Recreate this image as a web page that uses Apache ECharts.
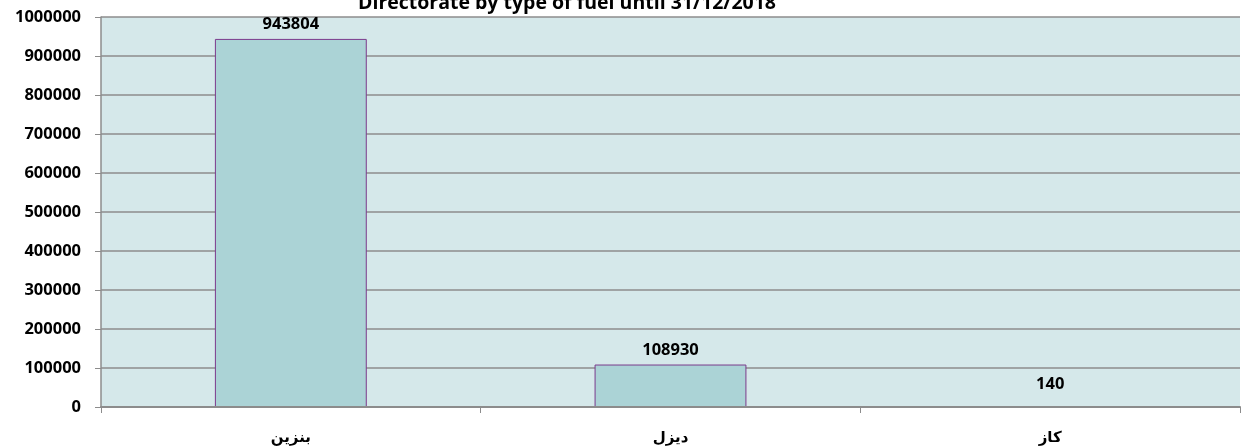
<!DOCTYPE html>
<html>
<head>
<meta charset="utf-8">
<script src="https://cdn.jsdelivr.net/npm/echarts@6/dist/echarts.min.js"></script>
<style>
  html, body { margin: 0; padding: 0; background: #fff; }
  #chart { width: 1241px; height: 448px; }
</style>
</head>
<body>
<div id="chart"></div>
<script>
    'use strict'

    var titleText = 'Directorate by type of fuel until 31/12/2018';
    var fuelTypes = ['بنزين', 'ديزل', 'كاز'];
    var fuelCounts = [943804, 108930, 140];
    var labelGaps = [6, 6, 14];

    var fuelChart = echarts.init(document.getElementById('chart'));

    var barData = fuelCounts.map(function (v, i) {
        return { value: v, label: { distance: labelGaps[i] } };
    });

    fuelChart.setOption({
        animation: false,
        title: {
            text: titleText,
            left: 562,
            textAlign: 'center',
            top: -12,
            textStyle: {
                fontFamily: 'Open Sans',
                fontSize: 19.5,
                fontWeight: 'bold',
                color: '#000'
            }
        },
        grid: {
            left: 101,
            right: 1,
            top: 17,
            bottom: 41,
            show: true,
            backgroundColor: '#d5e8ea',
            borderWidth: 0
        },
        xAxis: {
            type: 'category',
            data: fuelTypes,
            z: 5,
            axisLine: { lineStyle: { color: '#8c8c8c', width: 2 } },
            axisTick: { show: true, length: 6, lineStyle: { color: '#8c8c8c' } },
            axisLabel: {
                margin: 24,
                fontFamily: 'DejaVu Sans',
                fontSize: 15,
                fontWeight: 'bold',
                color: '#000'
            }
        },
        yAxis: {
            type: 'value',
            min: 0,
            max: 1000000,
            interval: 100000,
            axisLine: { show: true, lineStyle: { color: '#8c8c8c', width: 1.5 } },
            axisTick: { show: true, length: 6, lineStyle: { color: '#8c8c8c' } },
            splitLine: { lineStyle: { color: '#8c8c8c', width: 1.5 } },
            axisLabel: {
                margin: 20,
                fontFamily: 'Open Sans',
                fontSize: 16.5,
                fontWeight: 'bold',
                color: '#000',
                formatter: function (v) { return String(v); }
            }
        },
        series: [{
            type: 'bar',
            data: barData,
            barWidth: '40%',
            itemStyle: {
                color: '#abd3d6',
                borderColor: '#7b3a8c',
                borderWidth: 1
            },
            label: {
                show: true,
                position: 'top',
                fontFamily: 'Open Sans',
                fontSize: 16.5,
                fontWeight: 'bold',
                color: '#000'
            }
        }]
    });
</script>
</body>
</html>
